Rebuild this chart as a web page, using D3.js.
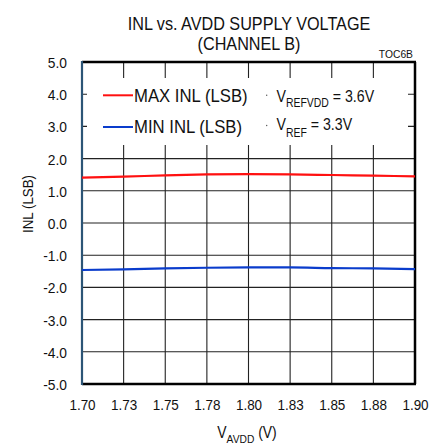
<!DOCTYPE html>
<html>
<head>
<meta charset="utf-8">
<script src="https://cdn.jsdelivr.net/npm/d3@7"></script>
<style>
  html, body { margin: 0; padding: 0; background: #fff; }
  svg { display: block; }
  text { font-family: "Liberation Sans", Arial, Helvetica, sans-serif; fill: #111; }
</style>
</head>
<body>
<svg id="chart" width="431" height="446"></svg>
<script>
// ---- data ----
const voltages = [1.70, 1.725, 1.75, 1.775, 1.80, 1.825, 1.85, 1.875, 1.90];
const maxInl   = [1.41, 1.44, 1.48, 1.51, 1.52, 1.51, 1.49, 1.47, 1.45];
const minInl   = [-1.46, -1.44, -1.41, -1.39, -1.38, -1.38, -1.40, -1.41, -1.43];
const xTickValues = [1.70, 1.725, 1.75, 1.775, 1.80, 1.825, 1.85, 1.875, 1.90];
const xTickLabels = ["1.70", "1.73", "1.75", "1.78", "1.80", "1.83", "1.85", "1.88", "1.90"];
const yTickValues = [-5, -4, -3, -2, -1, 0, 1, 2, 3, 4, 5];
const seriesNames = ["MAX INL (LSB)", "MIN INL (LSB)"];
const seriesColors = ["#ff1010", "#0a3ccc"];
const titleLines = ["INL vs. AVDD SUPPLY VOLTAGE", "(CHANNEL B)"];

// horizontal condensing helper (reference uses a narrow sans face)
function cond(sel, k) {
  sel.each(function () {
    const t = d3.select(this);
    const ax = +t.attr("x") || 0;
    const prev = t.attr("transform") || "";
    t.attr("transform", `${prev} translate(${ax},0) scale(${k},1) translate(${-ax},0)`);
  });
  return sel;
}

// ---- layout ----
const svg = d3.select("#chart");
const L = 82, R = 415, T = 62, B = 384;
const x = d3.scaleLinear().domain([1.70, 1.90]).range([L, R]);
const y = d3.scaleLinear().domain([-5, 5]).range([B, T]);

// gridlines
const grid = svg.append("g");
grid.selectAll("line.v").data(xTickValues.slice(1, -1)).join("line")
  .attr("x1", d => x(d)).attr("x2", d => x(d))
  .attr("y1", T).attr("y2", B)
  .attr("stroke", "#222").attr("stroke-width", 1.1);
grid.selectAll("line.h").data(yTickValues.slice(1, -1)).join("line")
  .attr("x1", L).attr("x2", R)
  .attr("y1", d => y(d)).attr("y2", d => y(d))
  .attr("stroke", "#222").attr("stroke-width", 1.1);

// legend blanking box
svg.append("rect").attr("x", 87).attr("y", 78).attr("width", 321).attr("height", 67).attr("fill", "#fff");

// frame
svg.append("line").attr("x1", L).attr("x2", R + 1).attr("y1", T).attr("y2", T).attr("stroke", "#000").attr("stroke-width", 2.5);
svg.append("line").attr("x1", R).attr("x2", R).attr("y1", T).attr("y2", B).attr("stroke", "#000").attr("stroke-width", 2.5);
svg.append("line").attr("x1", L).attr("x2", R + 1).attr("y1", B).attr("y2", B).attr("stroke", "#000").attr("stroke-width", 2.5);
svg.append("line").attr("x1", L).attr("x2", L).attr("y1", T - 1).attr("y2", B + 1).attr("stroke", "#2c5576").attr("stroke-width", 2.2);

// curves
const line = d3.line().x(d => x(d[0])).y(d => y(d[1])).curve(d3.curveMonotoneX);
[maxInl, minInl].forEach((vals, i) => {
  svg.append("path")
    .datum(voltages.map((v, j) => [v, vals[j]]))
    .attr("d", line)
    .attr("fill", "none")
    .attr("stroke", seriesColors[i])
    .attr("stroke-width", 2.2);
});

// axes labels
const xAxis = d3.axisBottom(x).tickValues(xTickValues)
  .tickFormat((d, i) => xTickLabels[i]).tickSize(0).tickPadding(0);
const gx = svg.append("g").attr("transform", `translate(0,${B})`).call(xAxis)
  .attr("font-family", null).attr("font-size", null);
gx.select(".domain").remove();
gx.selectAll("text").attr("y", 26).attr("dy", 0).attr("font-size", 15.5);
cond(gx.selectAll("text"), 0.87);

const yAxis = d3.axisLeft(y).tickValues(yTickValues).tickFormat(d => d.toFixed(1)).tickSize(0).tickPadding(0);
const gy = svg.append("g").attr("transform", `translate(67,0)`).call(yAxis)
  .attr("font-family", null).attr("font-size", null);
gy.select(".domain").remove();
gy.selectAll("text").attr("x", 0).attr("dy", "0.36em").attr("font-size", 15.5);
cond(gy.selectAll("text"), 0.89);

// legend
const legRows = [95.3, 127];
seriesNames.forEach((name, i) => {
  svg.append("line").attr("x1", 103).attr("x2", 133)
    .attr("y1", legRows[i]).attr("y2", legRows[i])
    .attr("stroke", seriesColors[i]).attr("stroke-width", 2);
  const t = svg.append("text").attr("x", 134).attr("y", legRows[i] + 6.3)
    .attr("font-size", 17.6).text(name);
  cond(t, 0.95);
  svg.append("circle").attr("cx", 266.7).attr("cy", legRows[i] - (i ? 1.5 : 0)).attr("r", 0.7).attr("fill", "#555");
});

// annotations
const a1 = svg.append("text").attr("x", 276.5).attr("y", 102).attr("font-size", 16.3);
a1.append("tspan").text("V");
a1.append("tspan").attr("font-size", 12).attr("dy", 5).text("REFVDD");
a1.append("tspan").attr("dy", -5).text(" = 3.6V");
cond(a1, 0.87);
const a2 = svg.append("text").attr("x", 276.5).attr("y", 130.3).attr("font-size", 16.3);
a2.append("tspan").text("V");
a2.append("tspan").attr("font-size", 12).attr("dy", 6.7).text("REF");
a2.append("tspan").attr("dy", -6.7).text(" = 3.3V");
cond(a2, 0.87);

// title (two lines)
const titleBase = [29.8, 50];
titleLines.forEach((s, i) => {
  cond(svg.append("text").attr("x", 249).attr("y", titleBase[i]).attr("text-anchor", "middle")
    .attr("font-size", 18).text(s), 0.9);
});
svg.append("text").attr("x", 413).attr("y", 58).attr("text-anchor", "end")
  .attr("font-size", 10.3).text("TOC6B");

// axis titles
const xt = svg.append("text").attr("x", 247).attr("y", 437.7).attr("text-anchor", "middle").attr("font-size", 16);
xt.append("tspan").text("V");
xt.append("tspan").attr("font-size", 11.8).attr("dy", 5).text("AVDD");
xt.append("tspan").attr("dy", -5).text(" (V)");
cond(xt, 0.87);

svg.append("text").attr("transform", "translate(33,204) rotate(-90) scale(0.86,1)")
  .attr("text-anchor", "middle").attr("font-size", 15.5).text("INL (LSB)");
</script>
</body>
</html>
